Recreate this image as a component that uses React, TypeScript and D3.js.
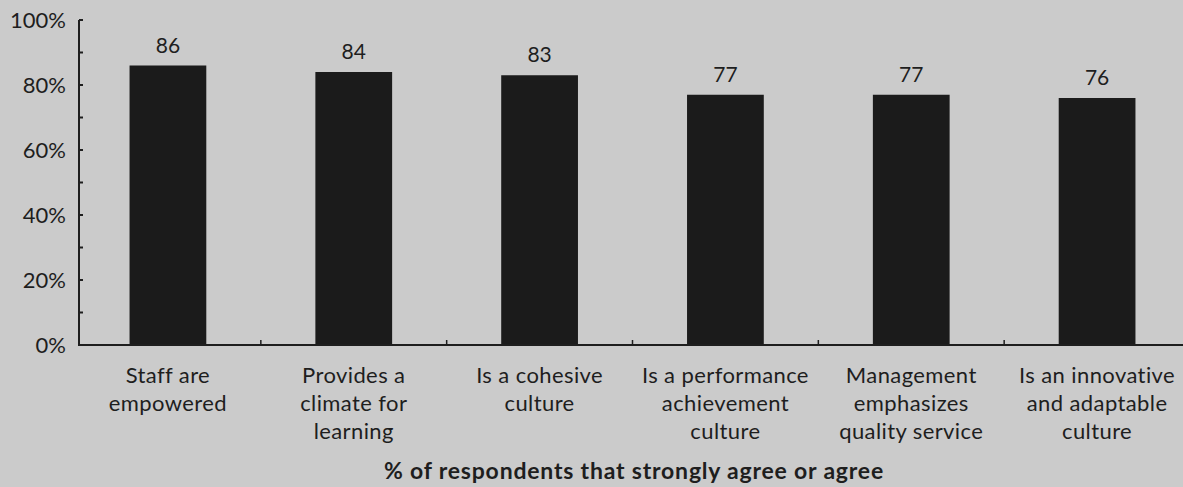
import React from "react";
import * as d3 from "d3";

const categories: string[][] = [
  ["Staff are", "empowered"],
  ["Provides a", "climate for", "learning"],
  ["Is a cohesive", "culture"],
  ["Is a performance", "achievement", "culture"],
  ["Management", "emphasizes", "quality service"],
  ["Is an innovative", "and adaptable", "culture"],
];
const values: number[] = [86, 84, 83, 77, 77, 76];
const yTickLabels: number[] = [0, 20, 40, 60, 80, 100];
const yMinorTicks: number[] = [0, 10, 20, 30, 40, 50, 60, 70, 80, 90, 100];
const xTitle = "% of respondents that strongly agree or agree";

const W = 1183;
const H = 487;
const FONT = "Lato, 'Open Sans', sans-serif";
const INK = "#1e1e1e";

export default function App() {
  const keys = categories.map((_, i) => String(i));
  const x = d3.scaleBand<string>().domain(keys).range([75, 1190]).padding(0);
  const y = d3.scaleLinear().domain([0, 100]).range([345, 20]);
  const axisX = 79;
  const barW = x.bandwidth() * 0.413;

  return (
    <div style={{ position: "absolute", left: 0, top: 0 }}>
      <svg width={W} height={H} style={{ display: "block" }}>
        <rect x={0} y={0} width={W} height={H} fill="#cbcbcb" />
        {values.map((v, i) => {
          const cx = (x(keys[i]) as number) + x.bandwidth() / 2;
          return (
            <g key={i}>
              <rect x={cx - barW / 2} y={y(v)} width={barW} height={y(0) - y(v)} fill="#1b1b1b" />
              <text x={cx} y={y(v) - 13} textAnchor="middle" fontFamily={FONT} fontSize={21} fill={INK}>
                {v}
              </text>
              {categories[i].map((line, j) => (
                <text key={j} x={cx} y={383 + j * 28} textAnchor="middle" fontFamily={FONT} fontSize={22} letterSpacing={0.4} fill={INK}>
                  {line}
                </text>
              ))}
            </g>
          );
        })}
        <line x1={axisX} x2={axisX} y1={y(100)} y2={y(0)} stroke={INK} strokeWidth={2} />
        {yMinorTicks.map((t) => (
          <line key={t} x1={axisX} x2={axisX + 4} y1={y(t)} y2={y(t)} stroke={INK} strokeWidth={2} />
        ))}
        {yTickLabels.map((t) => (
          <text key={t} x={66} y={y(t)} dy="0.35em" textAnchor="end" fontFamily={FONT} fontSize={22} fill={INK}>
            {t}%
          </text>
        ))}
        <line x1={axisX - 1} x2={W} y1={y(0)} y2={y(0)} stroke={INK} strokeWidth={2} />
        {keys.slice(1).map((k) => (
          <line key={k} x1={x(k) as number} x2={x(k) as number} y1={y(0)} y2={y(0) - 5} stroke={INK} strokeWidth={1.5} />
        ))}
        <text x={634} y={479} textAnchor="middle" fontFamily={FONT} fontSize={23} letterSpacing={0.8} fontWeight="bold" fill={INK}>
          {xTitle}
        </text>
      </svg>
    </div>
  );
}
